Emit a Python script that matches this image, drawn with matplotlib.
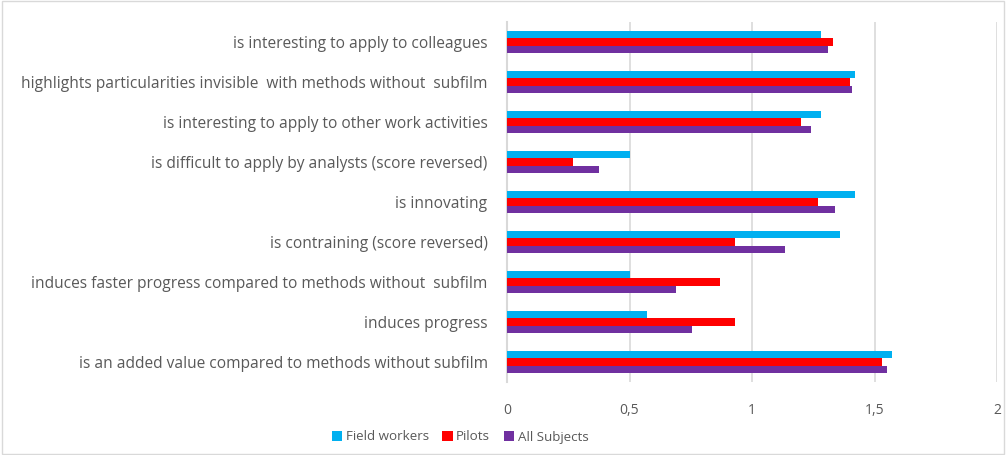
import numpy as np
import matplotlib.pyplot as plt

plt.rcParams['font.family'] = ['Open Sans', 'DejaVu Sans']

categories = [
    'is interesting to apply to colleagues',
    'highlights particularities invisible  with methods without  subfilm',
    'is interesting to apply to other work activities',
    'is difficult to apply by analysts (score reversed)',
    'is innovating',
    'is contraining (score reversed)',
    'induces faster progress compared to methods without  subfilm',
    'induces progress',
    'is an added value compared to methods without subfilm',
]
field_workers = [1.28, 1.42, 1.28, 0.50, 1.42, 1.36, 0.50, 0.57, 1.57]
pilots = [1.33, 1.40, 1.20, 0.27, 1.27, 0.93, 0.87, 0.93, 1.53]
all_subjects = [1.31, 1.41, 1.24, 0.375, 1.34, 1.135, 0.69, 0.755, 1.55]

series = [('Field workers', field_workers, '#00B0F0'),
          ('Pilots', pilots, '#FF0000'),
          ('All Subjects', all_subjects, '#7030A0')]

fig = plt.figure(figsize=(10.07, 4.55), dpi=100)
ax = fig.add_axes([507 / 1007, 1 - 382 / 455, 490 / 1007, 360 / 455])

y = np.arange(len(categories))
h = 0.19
for i, (name, vals, col) in enumerate(series):
    ax.barh(y + (i - 1) * h, vals, height=h, color=col, label=name, zorder=3)

ax.set_ylim(len(categories) - 0.5, -0.5)
ax.set_xlim(0, 2)
ax.set_xticks([0, 0.5, 1, 1.5, 2])
ax.set_xticklabels(['0', '0,5', '1', '1,5', '2'])
ax.set_yticks(y)
ax.set_yticklabels(categories)
ax.tick_params(axis='both', length=0, colors='#595959')
ax.tick_params(axis='x', pad=15, labelsize=10)
ax.tick_params(axis='y', pad=14, labelsize=11.2)
ax.grid(axis='x', color='#D9D9D9', linewidth=1.2, zorder=0)
for s in ['top', 'right', 'bottom']:
    ax.spines[s].set_visible(False)
ax.spines['left'].set_color('#D9D9D9')
ax.spines['left'].set_linewidth(1.5)

fig.legend(loc='center', bbox_to_anchor=(460 / 1007, 1 - 437 / 455), ncol=3,
           frameon=False, fontsize=9.6, labelcolor='#595959',
           handlelength=0.8, handleheight=0.8, handletextpad=0.25,
           columnspacing=1.0)

fig.patches.append(plt.Rectangle((0.002, 0.003), 0.995, 0.994, transform=fig.transFigure,
                                 fill=False, edgecolor='#D9D9D9', linewidth=1))

fig.savefig('out.png', dpi=100)
